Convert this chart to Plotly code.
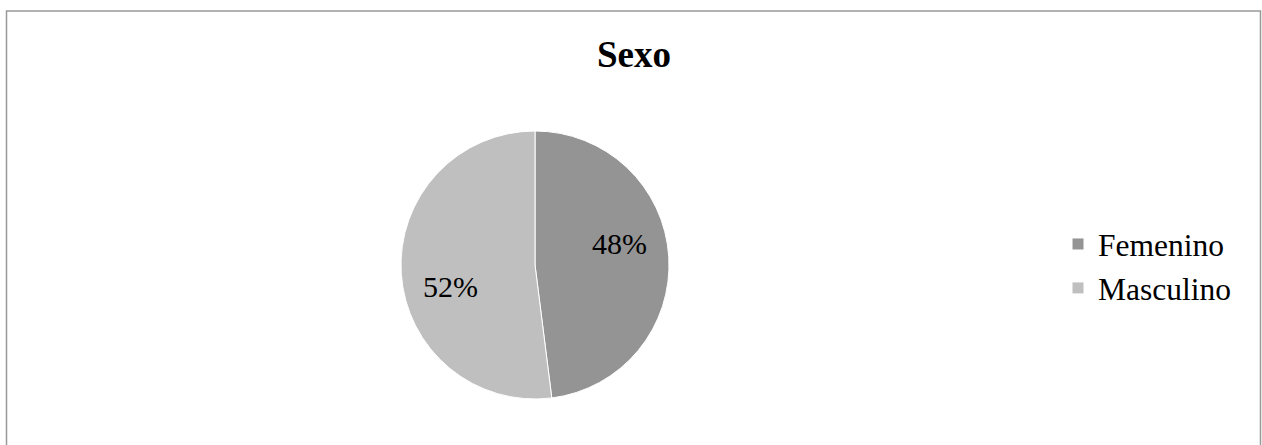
import math
import plotly.graph_objects as go

# Data
categories = ["Femenino", "Masculino"]
values = [48, 52]
colors = ["#949494", "#bfbfbf"]
title_text = "Sexo"

W, H = 1262, 445
SERIF = "Liberation Serif"

# pie placement (pixels)
PIE_L, PIE_R, PIE_T, PIE_B = 401, 669, 131, 399
cx, cy = (PIE_L + PIE_R) / 2, (PIE_T + PIE_B) / 2
R = (PIE_R - PIE_L) / 2
LABEL_R = 0.65          # label radius as fraction of pie radius
LABEL_ROT = -11         # degrees, label placement offset

fig = go.Figure(
    go.Pie(
        labels=categories,
        values=values,
        sort=False,
        direction="clockwise",
        rotation=0,
        marker=dict(colors=colors, line=dict(color="#ffffff", width=1)),
        textinfo="none",
        domain=dict(x=[PIE_L / W, PIE_R / W], y=[1 - PIE_B / H, 1 - PIE_T / H]),
        hoverinfo="label+percent",
    )
)

# percentage labels computed from the data (angles from cumulative shares)
total = sum(values)
cum = 0.0
annotations = []
for v in values:
    mid = (cum + v / 2) / total * 360 + LABEL_ROT
    cum += v
    px = cx + LABEL_R * R * math.sin(math.radians(mid))
    py = cy - LABEL_R * R * math.cos(math.radians(mid))
    annotations.append(
        dict(
            text=f"{round(v / total * 100)}%",
            x=px / W,
            y=1 - py / H,
            xref="paper",
            yref="paper",
            xanchor="center",
            yanchor="middle",
            showarrow=False,
            font=dict(family=SERIF, size=30, color="#000000"),
        )
    )

fig.update_layout(
    width=W,
    height=H,
    margin=dict(l=0, r=0, t=0, b=0),
    paper_bgcolor="#ffffff",
    plot_bgcolor="#ffffff",
    font=dict(family=SERIF, color="#000000"),
    title=dict(
        text="<b>" + title_text + "</b>",
        font=dict(family=SERIF, size=37, color="#000000"),
        x=634 / W,
        xanchor="center",
        y=1 - 54 / H,
        yanchor="middle",
    ),
    showlegend=True,
    legend=dict(
        x=1058 / W,
        xanchor="left",
        y=1 - 266 / H,
        yanchor="middle",
        font=dict(family=SERIF, size=31.5, color="#000000"),
        bgcolor="rgba(0,0,0,0)",
        borderwidth=0,
    ),
    annotations=annotations,
    shapes=[
        dict(
            type="rect",
            xref="paper",
            yref="paper",
            x0=6.5 / W,
            x1=1260.5 / W,
            y0=-0.2,
            y1=1 - 11 / H,
            line=dict(color="#999999", width=1.5),
            fillcolor="rgba(0,0,0,0)",
            layer="below",
        )
    ],
)

fig.write_html("out.html")
